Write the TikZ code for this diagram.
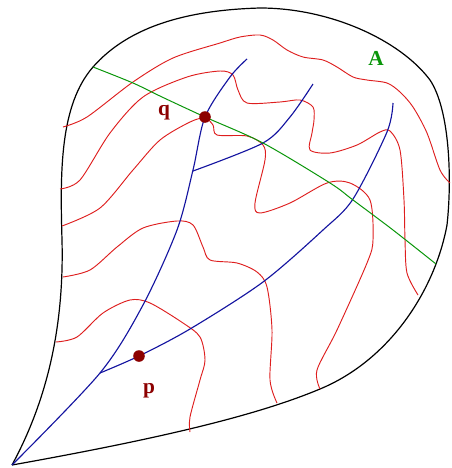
\documentclass[tikz,border=0pt]{standalone}
\usepackage{fontspec}
\setmainfont{Liberation Serif}
\definecolor{cred}{RGB}{222,30,30}
\definecolor{cblue}{RGB}{20,20,160}
\definecolor{cgreen}{RGB}{10,150,10}
\definecolor{cdark}{RGB}{140,0,0}
\begin{document}
\begin{tikzpicture}[x=0.75pt,y=-0.75pt,
  outline/.style={black,line width=0.9pt},
  redline/.style={cred,line width=0.7pt},
  blueline/.style={cblue,line width=0.85pt},
  greenline/.style={cgreen,line width=0.75pt},
  dot/.style={circle,fill=cdark,inner sep=0pt,minimum size=8.7pt},
  lbl/.style={font=\fontsize{16}{18}\selectfont\bfseries,inner sep=0pt}]
\useasboundingbox (0,0) rectangle (451,468);
% outline
\draw[outline] (12,465) .. controls (50,395) and (64,320) .. (62,240)
  .. controls (60,170) and (60,105) .. (93,67)
  .. controls (130,25) and (190,10) .. (260,8)
  .. controls (330,8) and (400,40) .. (430,80)
  .. controls (450,110) and (452,180) .. (447,225)
  .. controls (435,290) and (390,360) .. (320,389)
  .. controls (265,412) and (180,435) .. (12,465);
% red curves
\draw[redline] plot[smooth] coordinates {(63,127) (87,117) (133,82) (173,58) (220,43) (240,37) (260,35) (273,40) (287,50) (303,57) (323,60) (337,67) (353,77) (367,80) (387,83) (400,92) (413,107) (427,133) (440,170) (450,183)};
\draw[redline] plot[smooth] coordinates {(60,189) (80,180) (110,133) (143,97) (187,77) (220,71) (233,75) (238,90) (247,103) (280,102) (300,100) (313,107) (314,120) (312,133) (310,150) (330,153) (357,145) (380,132) (390,131) (400,150) (404,200) (405,240) (407,273) (418,295)};
\draw[redline] plot[smooth] coordinates {(62,226) (100,208) (133,170) (160,140) (190,122) (205,118) (213,125) (217,135) (247,136) (263,145) (265,160) (255,203) (260,213) (290,203) (327,183) (350,183) (370,200) (373,240) (367,263) (337,330) (317,370) (320,389)};
\draw[redline] plot[smooth] coordinates {(63,277) (90,270) (117,247) (143,228) (177,221) (193,225) (203,247) (210,260) (237,263) (257,272) (267,287) (272,330) (270,380) (277,403)};
\draw[redline] plot[smooth] coordinates {(56,342) (77,337) (103,313) (130,300) (150,303) (183,323) (200,337) (205,360) (200,380) (190,417) (190,432)};
% blue curves
\draw[blueline] plot[smooth] coordinates {(12,465) (100,373) (143,305) (177,230) (193,170) (205,117) (230,77) (247,59)};
\draw[blueline] plot[smooth] coordinates {(193,171) (263,143) (290,117) (313,84)};
\draw[blueline] plot[smooth] coordinates {(100,373) (139,356) (190,329) (263,282) (323,230) (353,199) (387,132) (393,103)};
% green curve
\draw[greenline] plot[smooth] coordinates {(93,67) (133,83) (162,97) (205,117) (263,143) (330,183) (353,200) (393,230) (436,264)};
% points and labels
\node[dot] (q) at (205,117) {};
\node[dot] (p) at (139,356) {};
\node[lbl,text=cdark] (ql) at (164,113) {q};
\node[lbl,text=cdark] (pl) at (149,391) {p};
\node[lbl,text=cgreen] (al) at (376,58) {A};
\end{tikzpicture}
\end{document}
